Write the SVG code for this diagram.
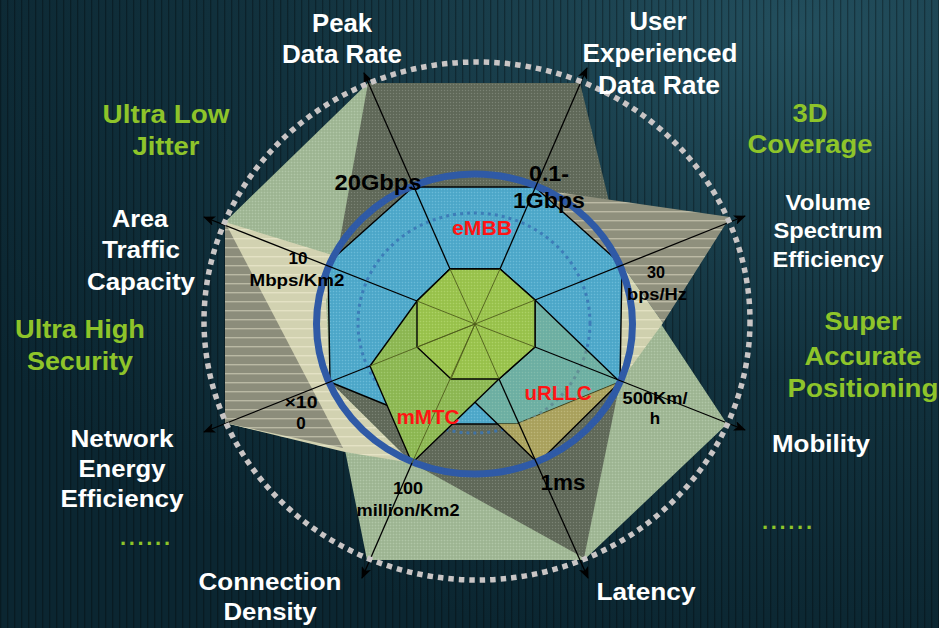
<svg xmlns="http://www.w3.org/2000/svg" width="939" height="628" viewBox="0 0 939 628">
<defs>
  <radialGradient id="bgGrad" cx="0.85" cy="0.05" r="1.0">
    <stop offset="0" stop-color="#234f5e"/>
    <stop offset="0.55" stop-color="#12323e"/>
    <stop offset="1" stop-color="#0b2631"/>
  </radialGradient>
  <pattern id="vstripes" width="7" height="7" patternUnits="userSpaceOnUse">
    <rect x="0" y="0" width="1.3" height="7" fill="#000" fill-opacity="0.3"/>
  </pattern>
  <pattern id="hstripes" width="9" height="9" patternUnits="userSpaceOnUse">
    <rect x="0" y="4" width="9" height="1.4" fill="#fffbe0" fill-opacity="0.4"/>
  </pattern>
  <pattern id="mesh" width="3" height="3" patternUnits="userSpaceOnUse">
    <rect x="0" y="0" width="1" height="1" fill="#ffffff" fill-opacity="0.16"/>
    <rect x="1.5" y="1.5" width="1" height="1" fill="#000000" fill-opacity="0.12"/>
  </pattern>
  <marker id="arr" viewBox="0 0 12 10" refX="11" refY="5" markerWidth="12" markerHeight="10" markerUnits="userSpaceOnUse" orient="auto">
    <path d="M0,0 L12,5 L0,10 L3,5 Z" fill="#000"/>
  </marker>
  <style>
    text { font-family: "Liberation Sans", Arial, sans-serif; font-weight: bold; text-anchor: middle; }
    .wt { fill: #ffffff; }
    .gt { fill: #8ec42a; }
    .bt { fill: #000000; }
    .rt { fill: #ff1414; font-size: 20px; }
    .edge { fill: none; stroke: #000; stroke-width: 1.4; stroke-linejoin: round; }
    .axis { fill: none; stroke: #000; stroke-width: 1.3; marker-end: url(#arr); }
    .spoke { fill: none; stroke: #4f5c1c; stroke-width: 0.9; }
    .mesh { fill: url(#mesh); }
    .stripe { fill: url(#hstripes); }
  </style>
</defs>

<!-- background -->
<rect x="0" y="0" width="939" height="628" fill="url(#bgGrad)"/>
<rect x="0" y="0" width="939" height="628" fill="url(#vstripes)"/>

<!-- scenario areas -->
<g id="area-light-green">
  <polygon points="368,83 225,222 225,423 345,450 367,560 584,560 727,424 622,265 475,324" fill="#a2ba97"/>
  <polygon points="368,83 225,222 225,423 345,450 367,560 584,560 727,424 622,265 475,324" class="mesh"/>
</g>
<g id="area-dark-gray">
  <polygon points="368,83 580,83 608,197 622,265 620,382 584,558 412,463 330,382 336,262" fill="#626b5b"/>
  <polygon points="368,83 580,83 608,197 622,265 620,382 584,558 412,463 330,382 336,262" class="mesh"/>
</g>
<g id="area-beige-left">
  <polygon points="225,222 342,258 326,300 330,382 412,463 345,452 225,423" fill="#d2d2b1"/>
  <polygon points="225,222 225,423 343,448" fill="#8c8d7b"/>
  <polygon points="225,222 342,258 326,300 330,382 412,463 345,452 225,423" class="stripe"/>
</g>
<g id="area-beige-right">
  <polygon points="528,188 730,217 663,323 622,265" fill="#8f907d"/>
  <polygon points="622,265 663,323 620,382" fill="#cfd0ae"/>
  <polygon points="528,188 730,217 663,323 620,382 622,265" class="stripe"/>
</g>

<!-- eMBB -->
<g id="embb">
  <polygon points="413,187 535,187 622,265 620,382 517,424 433,424 330,382 328,263" fill="#50abcd"/>
  <polygon points="413,187 535,187 622,265 620,382 517,424 433,424 330,382 328,263" class="mesh"/>
  <polygon points="413,187 535,187 622,265 620,382 517,424 433,424 330,382 328,263" class="edge"/>
</g>
<ellipse id="dotted-ring" cx="474" cy="323" rx="116" ry="110" fill="none" stroke="#3a74b4" stroke-width="3" stroke-dasharray="3 4" stroke-opacity="0.85"/>

<!-- uRLLC -->
<g id="urllc">
  <polygon points="450,269 500,269 535,300 620,382 538,463 451,379 417,347 417,301" fill="#b8c04a" fill-opacity="0.3"/>
  <polygon points="497.6,424 517,424 620,382 538,463" fill="#b3a862" fill-opacity="0.9"/>
  <polygon points="497.6,424 517,424 620,382 538,463" class="mesh"/>
  <polygon points="450,269 500,269 535,300 620,382 538,463 451,379 417,347 417,301" class="edge"/>
</g>
<!-- mMTC -->
<g id="mmtc">
  <polygon points="450,269 500,269 535,300 535,347 499,379 412,463 370,366 417,301" fill="#8fbb55"/>
  <polygon points="450,269 500,269 535,300 535,347 499,379 412,463 370,366 417,301" class="mesh"/>
  <polygon points="450,269 500,269 535,300 535,347 499,379 412,463 370,366 417,301" class="edge"/>
</g>
<!-- inner core -->
<g id="core">
  <polygon points="450,269 500,269 535,300 535,347 499,379 451,379 417,347 417,301" fill="#9cc64e"/>
  <polygon points="450,269 500,269 535,300 535,347 499,379 451,379 417,347 417,301" class="mesh"/>
  <polygon points="450,269 500,269 535,300 535,347 499,379 451,379 417,347 417,301" class="edge"/>
</g>

<ellipse id="blue-ring" cx="474.5" cy="324" rx="158" ry="150" fill="none" stroke="#2f5aa6" stroke-width="7"/>

<!-- connectors: spokes and axes -->
<g id="connectors">
  <path class="spoke" d="M475,324 L450,269 M475,324 L500,269 M475,324 L535,300 M475,324 L535,347 M475,324 L499,379 M475,324 L412,463 M475,324 L370,366 M475,324 L417,301 M475,324 L451,379 M475,324 L417,347"/>
  <path class="axis" d="M450,269 L364,73"/>
  <path class="axis" d="M500,269 L587,68"/>
  <path class="axis" d="M535,300 L745,216"/>
  <path class="axis" d="M535,347 L745,430"/>
  <path class="axis" d="M499,379 L588,578"/>
  <path class="axis" d="M412,463 L362,578"/>
  <path class="axis" d="M370,366 L204,432"/>
  <path class="axis" d="M417,301 L204,217"/>
</g>

<ellipse id="outer-ring" cx="477" cy="321" rx="273" ry="259" fill="none" stroke="#c9c5c5" stroke-width="5.5" stroke-dasharray="5.5 5"/>

<!-- axis titles -->
<g id="labels-axes">
  <text class="wt" font-size="25" x="342" y="32" textLength="60" lengthAdjust="spacingAndGlyphs">Peak</text>
  <text class="wt" font-size="25" x="342" y="63" textLength="120" lengthAdjust="spacingAndGlyphs">Data Rate</text>
  <text class="wt" font-size="25" x="658" y="30" textLength="57" lengthAdjust="spacingAndGlyphs">User</text>
  <text class="wt" font-size="25" x="660" y="62" textLength="155" lengthAdjust="spacingAndGlyphs">Experienced</text>
  <text class="wt" font-size="25" x="659" y="94" textLength="122" lengthAdjust="spacingAndGlyphs">Data Rate</text>
  <text class="wt" font-size="22" x="828" y="210" textLength="85" lengthAdjust="spacingAndGlyphs">Volume</text>
  <text class="wt" font-size="22" x="828" y="238" textLength="109" lengthAdjust="spacingAndGlyphs">Spectrum</text>
  <text class="wt" font-size="22" x="828" y="267" textLength="111" lengthAdjust="spacingAndGlyphs">Efficiency</text>
  <text class="wt" font-size="24" x="821" y="452" textLength="98" lengthAdjust="spacingAndGlyphs">Mobility</text>
  <text class="wt" font-size="24" x="646" y="600" textLength="99" lengthAdjust="spacingAndGlyphs">Latency</text>
  <text class="wt" font-size="24" x="270" y="590" textLength="143" lengthAdjust="spacingAndGlyphs">Connection</text>
  <text class="wt" font-size="24" x="270" y="620" textLength="93" lengthAdjust="spacingAndGlyphs">Density</text>
  <text class="wt" font-size="24" x="122" y="447" textLength="103" lengthAdjust="spacingAndGlyphs">Network</text>
  <text class="wt" font-size="24" x="122" y="477" textLength="87" lengthAdjust="spacingAndGlyphs">Energy</text>
  <text class="wt" font-size="24" x="122" y="507" textLength="123" lengthAdjust="spacingAndGlyphs">Efficiency</text>
  <text class="wt" font-size="23" x="140" y="227" textLength="56" lengthAdjust="spacingAndGlyphs">Area</text>
  <text class="wt" font-size="23" x="141" y="258" textLength="78" lengthAdjust="spacingAndGlyphs">Traffic</text>
  <text class="wt" font-size="23" x="141" y="290" textLength="108" lengthAdjust="spacingAndGlyphs">Capacity</text>
</g>
<g id="labels-extra">
  <text class="gt" font-size="26" x="166" y="123" textLength="127" lengthAdjust="spacingAndGlyphs">Ultra Low</text>
  <text class="gt" font-size="26" x="166" y="155" textLength="67" lengthAdjust="spacingAndGlyphs">Jitter</text>
  <text class="gt" font-size="26" x="80" y="338" textLength="130" lengthAdjust="spacingAndGlyphs">Ultra High</text>
  <text class="gt" font-size="26" x="80" y="370" textLength="106" lengthAdjust="spacingAndGlyphs">Security</text>
  <text class="gt" font-size="26" x="810" y="122" textLength="35" lengthAdjust="spacingAndGlyphs">3D</text>
  <text class="gt" font-size="26" x="810" y="153" textLength="125" lengthAdjust="spacingAndGlyphs">Coverage</text>
  <text class="gt" font-size="26" x="863" y="330" textLength="77" lengthAdjust="spacingAndGlyphs">Super</text>
  <text class="gt" font-size="26" x="863" y="365" textLength="117" lengthAdjust="spacingAndGlyphs">Accurate</text>
  <text class="gt" font-size="26" x="863" y="397" textLength="151" lengthAdjust="spacingAndGlyphs">Positioning</text>
  <text class="gt" font-size="22" x="145" y="545" textLength="50">......</text>
  <text class="gt" font-size="22" x="787" y="529" textLength="50">......</text>
</g>
<!-- values -->
<g id="labels-values">
  <text class="bt" font-size="22" x="378" y="190" textLength="87" lengthAdjust="spacingAndGlyphs">20Gbps</text>
  <text class="bt" font-size="22" x="549" y="181" textLength="40" lengthAdjust="spacingAndGlyphs">0.1-</text>
  <text class="bt" font-size="22" x="549" y="208" textLength="72" lengthAdjust="spacingAndGlyphs">1Gbps</text>
  <text class="bt" font-size="17" x="298" y="264" textLength="19" lengthAdjust="spacingAndGlyphs">10</text>
  <text class="bt" font-size="17" x="297" y="286" textLength="95" lengthAdjust="spacingAndGlyphs">Mbps/Km2</text>
  <text class="bt" font-size="17" x="656" y="278" textLength="18" lengthAdjust="spacingAndGlyphs">30</text>
  <text class="bt" font-size="17" x="657" y="300" textLength="60" lengthAdjust="spacingAndGlyphs">bps/Hz</text>
  <text class="bt" font-size="17" x="655" y="404" textLength="65" lengthAdjust="spacingAndGlyphs">500Km/</text>
  <text class="bt" font-size="17" x="655" y="424">h</text>
  <text class="bt" font-size="17" x="301" y="408" textLength="33" lengthAdjust="spacingAndGlyphs">×10</text>
  <text class="bt" font-size="17" x="301" y="429">0</text>
  <text class="bt" font-size="17" x="408" y="494" textLength="30" lengthAdjust="spacingAndGlyphs">100</text>
  <text class="bt" font-size="17" x="408" y="516" textLength="103" lengthAdjust="spacingAndGlyphs">million/Km2</text>
  <text class="bt" font-size="22" x="563" y="490" textLength="45" lengthAdjust="spacingAndGlyphs">1ms</text>
</g>
<g id="labels-scenarios">
  <text class="rt" x="482" y="235" textLength="60" lengthAdjust="spacingAndGlyphs">eMBB</text>
  <text class="rt" x="558" y="400" textLength="67" lengthAdjust="spacingAndGlyphs">uRLLC</text>
  <text class="rt" x="428" y="424" textLength="63" lengthAdjust="spacingAndGlyphs">mMTC</text>
</g>
</svg>
